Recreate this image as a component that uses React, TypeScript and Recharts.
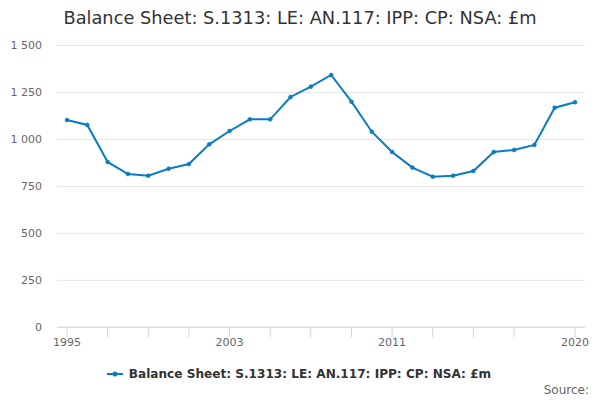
import React from 'react';
import { LineChart, Line, XAxis, YAxis, CartesianGrid, Legend } from 'recharts';

const years = [1995, 1996, 1997, 1998, 1999, 2000, 2001, 2002, 2003, 2004, 2005, 2006, 2007, 2008, 2009, 2010, 2011, 2012, 2013, 2014, 2015, 2016, 2017, 2018, 2019, 2020];
const values = [1103, 1077, 880, 816, 807, 844, 869, 974, 1045, 1107, 1107, 1226, 1281, 1343, 1201, 1041, 933, 850, 802, 807, 832, 933, 944, 971, 1169, 1198];
const xTicks = [1995, 1997, 1999, 2001, 2003, 2005, 2007, 2009, 2011, 2013, 2015, 2017, 2020];
const xLabels = [1995, 2003, 2011, 2020];
const yTicks = [0, 250, 500, 750, 1000, 1250, 1500];
const seriesName = 'Balance Sheet: S.1313: LE: AN.117: IPP: CP: NSA: £m';
const title = 'Balance Sheet: S.1313: LE: AN.117: IPP: CP: NSA: £m';

const data = years.map((y, i) => ({ year: y, value: values[i] }));
const COLOR = '#0a7cc1';
const FONT = '"DejaVu Sans", Verdana, sans-serif';

const fmt = (v: number) => String(v).replace(/\B(?=(\d{3})+(?!\d))/g, ' ');

const LegendContent = () => (
  <div style={{ height: 24, position: 'relative', fontFamily: FONT }}>
    <div style={{ position: 'absolute', top: 5, left: -8, width: 600, height: 24, display: 'flex', justifyContent: 'center', alignItems: 'center' }}>
      <svg width={16} height={10} style={{ marginRight: 6 }}>
        <line x1={0} y1={5} x2={16} y2={5} stroke={COLOR} strokeWidth={2} />
        <circle cx={8} cy={5} r={2.5} fill={COLOR} />
      </svg>
      <span style={{ fontSize: 12.1, fontWeight: 'bold', color: '#333333' }}>{seriesName}</span>
    </div>
  </div>
);

export default function App() {
  return (
    <div style={{ position: 'absolute', left: 0, top: 0, width: 600, height: 400, background: '#fff', fontFamily: FONT }}>
      <div style={{ position: 'absolute', top: 7, left: 0, width: 600, textAlign: 'center', fontSize: 17.8, color: '#333333', whiteSpace: 'nowrap' }}>
        {title}
      </div>
      <LineChart width={600} height={400} data={data} margin={{ top: 45.5, right: 15, bottom: 18.7, left: 7 }}>
        <CartesianGrid horizontal vertical={false} stroke="#e6e6e6" />
        <XAxis
          dataKey="year"
          type="number"
          domain={[1995, 2020]}
          ticks={xTicks}
          interval={0}
          tickFormatter={(v: number) => (xLabels.includes(v) ? String(v) : '')}
          padding={{ left: 10, right: 10 }}
          height={30}
          tickSize={10}
          tickMargin={1}
          stroke="#ccd6eb"
          tick={{ fill: '#666666', fontSize: 11, fontFamily: FONT }}
        />
        <YAxis
          domain={[0, 1500]}
          ticks={yTicks}
          width={50}
          axisLine={false}
          tickLine={false}
          tickSize={8}
          tickMargin={7}
          tickFormatter={fmt}
          tick={{ fill: '#666666', fontSize: 11, fontFamily: FONT }}
        />
        <Legend verticalAlign="bottom" content={<LegendContent />} />
        <Line
          type="linear"
          dataKey="value"
          name={seriesName}
          stroke={COLOR}
          strokeWidth={2}
          dot={{ r: 2, fill: COLOR, stroke: COLOR, strokeWidth: 0.5 }}
          isAnimationActive={false}
        />
      </LineChart>
      <div style={{ position: 'absolute', right: 11, top: 383, fontSize: 12, color: '#666666' }}>Source:</div>
    </div>
  );
}
